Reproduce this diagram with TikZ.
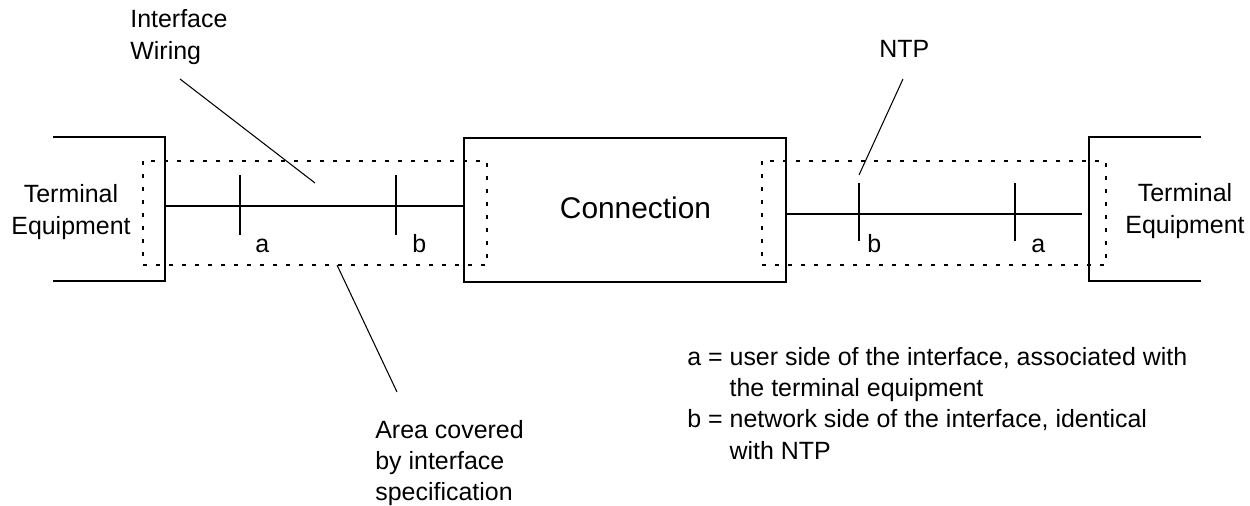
\documentclass[tikz,border=0pt]{standalone}
\usepackage{fontspec}
\setmainfont{Liberation Sans}
\begin{document}
\begin{tikzpicture}[x=0.02cm,y=-0.02cm,
  line/.style={line width=0.6pt,black},
  zone/.style={line width=0.6pt,dash pattern=on 2.2pt off 5.2pt},
  txt/.style={inner sep=0pt,font=\fontsize{14.2}{17.9}\selectfont},
  big/.style={inner sep=0pt,font=\fontsize{17}{20}\selectfont}]
\useasboundingbox (0,0) rectangle (1250,506);
% dotted interface zones
\draw[zone] (143,161) rectangle (487,265);
\draw[zone] (762,161) rectangle (1106,265);
% terminal equipment boxes (open)
\coordinate (teL) at (165,206);
\coordinate (teR) at (1082,214);
\draw[line] (53,137) -- (165,137) -- (165,281) -- (53,281);
\draw[line] (1201,137) -- (1089,137) -- (1089,281) -- (1201,281);
% connection box
\node[draw,line,minimum width=322*0.02cm,minimum height=144*0.02cm,inner sep=0pt] (conn) at (625,210) {};
\node[big,anchor=base] (conntxt) at (635.5,219) {Connection};
% wires
\coordinate (cL) at (conn.west |- teL);
\coordinate (cR) at (conn.east |- teR);
\draw[line] (teL) -- (cL);
\draw[line] (cR) -- (teR);
% ticks
\coordinate (t1a) at (240,175); \coordinate (t1b) at (240,235);
\coordinate (t2a) at (396,175); \coordinate (t2b) at (396,235);
\coordinate (t3a) at (859,183); \coordinate (t3b) at (859,241);
\coordinate (t4a) at (1015,183); \coordinate (t4b) at (1015,241);
\draw[line] (t1a) -- (t1b);
\draw[line] (t2a) -- (t2b);
\draw[line] (t3a) -- (t3b);
\draw[line] (t4a) -- (t4b);
% tick labels
\node[txt,anchor=base west] (la) at (255,253) {a};
\node[txt,anchor=base west] (lb) at (412,253) {b};
\node[txt,anchor=base west] (rb) at (867,253) {b};
\node[txt,anchor=base west] (ra) at (1031,253) {a};
% terminal texts
\node[txt,anchor=base] (teLtxt) at (71,203) {\begin{tabular}[t]{@{}c@{}}Terminal\\Equipment\end{tabular}};
\node[txt,anchor=base] (teRtxt) at (1185,202) {\begin{tabular}[t]{@{}c@{}}Terminal\\Equipment\end{tabular}};
% labels with leaders
\node[txt,anchor=base west] (iw) at (130,28) {\begin{tabular}[t]{@{}l@{}}Interface\\Wiring\end{tabular}};
\coordinate (iwS) at (180,79);
\coordinate (iwE) at (315,183);
\draw[line] (iwS) -- (iwE);
\node[txt,anchor=base west] (ntp) at (879,58) {NTP};
\coordinate (ntpS) at (903,79);
\coordinate (ntpE) at (859,175);
\draw[line] (ntpS) -- (ntpE);
\node[txt,anchor=base west] (area) at (375,438) {\begin{tabular}[t]{@{}l@{}}Area covered\\by interface\\specification\end{tabular}};
\coordinate (arS) at (337,265);
\coordinate (arE) at (397,392);
\draw[line] (arS) -- (arE);
% legend
\node[txt,anchor=base west] (legend) at (687,365) {\begin{tabular}[t]{@{}l@{\ }l@{}}a = & user side of the interface, associated with\\ & the terminal equipment\\ b = & network side of the interface, identical\\ & with NTP\end{tabular}};
\end{tikzpicture}
\end{document}
